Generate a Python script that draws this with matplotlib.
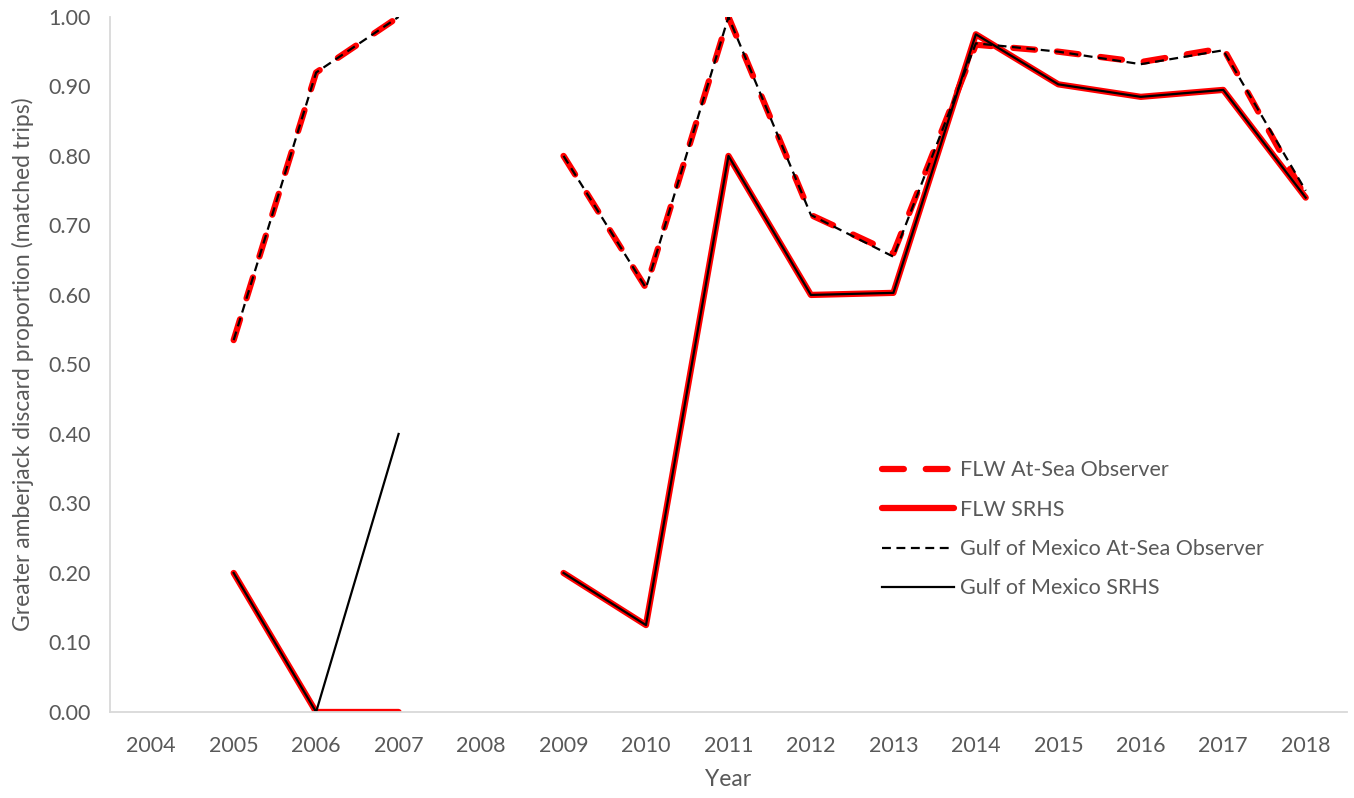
import matplotlib
matplotlib.use("Agg")
import matplotlib.pyplot as plt
import numpy as np

nan = np.nan

years = ["2004", "2005", "2006", "2007", "2008", "2009", "2010", "2011",
         "2012", "2013", "2014", "2015", "2016", "2017", "2018"]

flw_observer = [nan, 0.535, 0.92, 1.00, nan, 0.80, 0.61, 1.00,
                0.715, 0.66, 0.96, 0.95, 0.935, 0.955, 0.74]
flw_srhs = [nan, 0.20, 0.00, 0.00, nan, 0.20, 0.125, 0.80,
            0.60, 0.603, 0.975, 0.903, 0.885, 0.895, 0.74]
gom_observer = [nan, 0.535, 0.92, 1.00, nan, 0.80, 0.61, 1.00,
                0.715, 0.655, 0.962, 0.95, 0.932, 0.952, 0.75]
gom_srhs = [nan, 0.20, 0.00, 0.40, nan, 0.20, 0.125, 0.80,
            0.60, 0.603, 0.975, 0.903, 0.885, 0.895, 0.74]

plt.rcParams['font.family'] = ['Lato', 'DejaVu Sans']
grey = '#595959'

fig = plt.figure(figsize=(13.54, 7.98), dpi=100)
ax = fig.add_axes([0.0812, 0.1078, 0.9136, 0.871])

x = np.arange(len(years))

# thick red series first, thin black ones drawn on top
ax.plot(x, flw_observer, color='red', lw=4.5, linestyle=(0, (3.5, 3.5)),
        dash_capstyle='round', solid_capstyle='round', label='FLW At-Sea Observer')
ax.plot(x, flw_srhs, color='red', lw=4.5, solid_capstyle='round',
        label='FLW SRHS')
ax.plot(x, gom_observer, color='black', lw=1.6, linestyle=(0, (4, 2.5)),
        label='Gulf of Mexico At-Sea Observer')
ax.plot(x, gom_srhs, color='black', lw=1.6, label='Gulf of Mexico SRHS')

ax.set_xlim(-0.5, len(years) - 0.5)
ax.set_ylim(0, 1.0)
ax.set_xticks(x)
ax.set_xticklabels(years)
ax.set_yticks(np.arange(0, 1.01, 0.1))
ax.set_yticklabels([f"{v:.2f}" for v in np.arange(0, 1.01, 0.1)])
ax.tick_params(length=0, labelsize=15.5, colors=grey)
ax.tick_params(axis='y', pad=14)
ax.tick_params(axis='x', pad=17)

for s in ['top', 'right']:
    ax.spines[s].set_visible(False)
for s in ['left', 'bottom']:
    ax.spines[s].set_color('#d9d9d9')
    ax.spines[s].set_linewidth(1.3)

ax.set_xlabel("Year", fontsize=16.5, color=grey, labelpad=10)
ax.set_ylabel("Greater amberjack discard proportion (matched trips)",
              fontsize=16.5, color=grey, labelpad=10)

leg = ax.legend(loc='upper left', bbox_to_anchor=(0.6245, 0.362), frameon=False,
                fontsize=15.5, handlelength=3.3, labelspacing=0.9,
                handletextpad=0.3, borderpad=0, borderaxespad=0)
for t in leg.get_texts():
    t.set_color(grey)

fig.savefig("out.png", dpi=100)
